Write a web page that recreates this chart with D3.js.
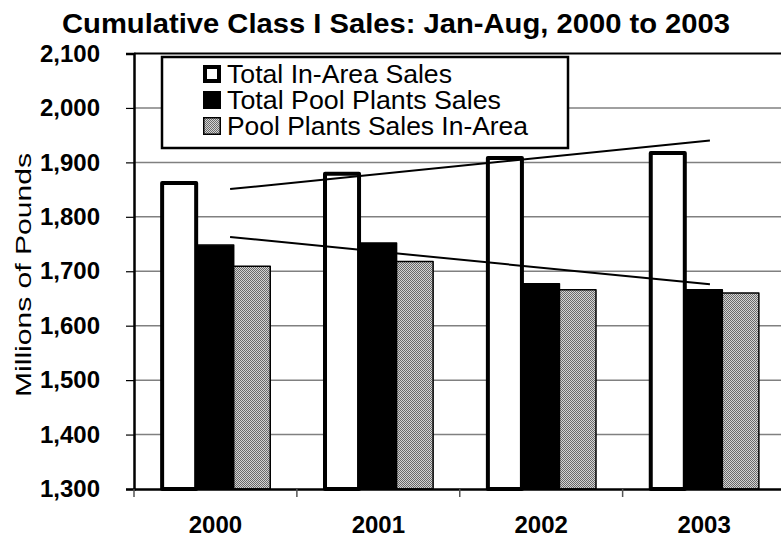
<!DOCTYPE html>
<html><head><meta charset="utf-8">
<script src="https://cdn.jsdelivr.net/npm/d3@7"></script>
<style>body{margin:0;background:#fff}svg{display:block}text{font-family:"Liberation Sans",Arial,Helvetica,sans-serif;fill:#000}</style>
</head><body><svg id="c" width="781" height="540"></svg>
<script>
const years = ["2000", "2001", "2002", "2003"];
const seriesNames = ["Total In-Area Sales", "Total Pool Plants Sales", "Pool Plants Sales In-Area"];
const totalInArea = [1862, 1879, 1908, 1917];
const totalPool = [1748, 1752, 1677, 1666];
const poolInArea = [1709, 1718, 1666, 1660];
const yTicks = [1300, 1400, 1500, 1600, 1700, 1800, 1900, 2000, 2100];
// hand-drawn trend lines: position in category units, value
const trendUpper = [{pos: 0.59, value: 1851}, {pos: 3.536, value: 1940}];
const trendLower = [{pos: 0.59, value: 1763}, {pos: 3.536, value: 1676}];
const titleText = "Cumulative Class I Sales: Jan-Aug, 2000 to 2003";
const yTitle = "Millions of Pounds";

const svg = d3.select("#c");
const L = 134, R = 785.5, T = 53.5, B = 489;

const defs = svg.append("defs");
const pat = defs.append("pattern").attr("id", "dots").attr("patternUnits", "userSpaceOnUse")
  .attr("width", 2).attr("height", 2);
pat.append("rect").attr("width", 2).attr("height", 2).attr("fill", "#d4d4d4");
pat.append("rect").attr("width", 1).attr("height", 1).attr("fill", "#6a6a6a");
pat.append("rect").attr("x", 1).attr("y", 1).attr("width", 1).attr("height", 1).attr("fill", "#6a6a6a");

const x = d3.scaleBand().domain(years).range([L, R]).paddingInner(0.327).paddingOuter(0.1635);
const xLin = d3.scaleLinear().domain([0, years.length]).range([L, R]);
const xs = d3.scaleBand().domain(seriesNames).range([0, x.bandwidth()]);
const y = d3.scaleLinear().domain([1300, 2100]).range([B, T]);

// gridlines
svg.append("g").selectAll("line").data(yTicks.filter(v => v > 1300 && v < 2100)).join("line")
  .attr("x1", L).attr("x2", R).attr("y1", d => y(d)).attr("y2", d => y(d))
  .attr("stroke", "#808080").attr("stroke-width", 1.5);
// top border
svg.append("line").attr("x1", L).attr("x2", R).attr("y1", y(2100)).attr("y2", y(2100))
  .attr("stroke", "#000").attr("stroke-width", 2);

// bars
const series = [
  {name: seriesNames[0], values: totalInArea, fill: "#fff", sw: 4},
  {name: seriesNames[1], values: totalPool, fill: "#000", sw: 1.5},
  {name: seriesNames[2], values: poolInArea, fill: "url(#dots)", sw: 1.5}
];
series.forEach(s => {
  svg.append("g").selectAll("rect").data(years).join("rect")
    .attr("x", (d) => x(d) + xs(s.name) + (s.sw > 2 ? 1.5 : 0))
    .attr("width", xs.bandwidth() - (s.sw > 2 ? 2.5 : 0))
    .attr("y", (d, i) => y(s.values[i]))
    .attr("height", (d, i) => B - y(s.values[i]))
    .attr("fill", s.fill).attr("stroke", "#000").attr("stroke-width", s.sw)
    .attr("stroke-linejoin", "round");
});

// trend lines
const line = d3.line().x(d => xLin(d.pos)).y(d => y(d.value));
[trendUpper, trendLower].forEach(t => {
  svg.append("path").attr("d", line(t)).attr("fill", "none").attr("stroke", "#000").attr("stroke-width", 2);
});

// y axis
const yAxis = svg.append("g").attr("transform", `translate(${L},0)`)
  .call(d3.axisLeft(y).tickValues(yTicks).tickFormat(d3.format(",")).tickSize(8).tickPadding(26));
yAxis.select(".domain").attr("stroke", "#000").attr("stroke-width", 2.5);
yAxis.selectAll(".tick line").attr("stroke", "#000").attr("stroke-width", 1.2);
yAxis.selectAll(".tick text").attr("font-size", 24).attr("font-weight", "bold")
  .attr("font-family", '"Liberation Sans",Arial,sans-serif').attr("fill", "#000");

// x axis
const xAxis = svg.append("g").attr("transform", `translate(0,${B})`)
  .call(d3.axisBottom(x).tickSize(0).tickPadding(27));
xAxis.select(".domain").attr("stroke", "#000").attr("stroke-width", 2.5);
xAxis.selectAll(".tick text").attr("font-size", 24).attr("font-weight", "bold")
  .attr("font-family", '"Liberation Sans",Arial,sans-serif').attr("fill", "#000");
// category boundary ticks
svg.append("g").selectAll("line").data(d3.range(years.length + 1)).join("line")
  .attr("x1", d => xLin(d)).attr("x2", d => xLin(d)).attr("y1", B).attr("y2", B + 8)
  .attr("stroke", "#555").attr("stroke-width", 1.5);

// title
svg.append("text").attr("x", 396).attr("y", 33).attr("text-anchor", "middle")
  .attr("font-size", 28).attr("font-weight", "bold")
  .attr("textLength", 668).attr("lengthAdjust", "spacingAndGlyphs").text(titleText);

// y title
svg.append("text").attr("transform", "translate(31,275) rotate(-90)").attr("text-anchor", "middle")
  .attr("font-size", 22).attr("textLength", 244).attr("lengthAdjust", "spacingAndGlyphs").text(yTitle);

// legend
const lg = svg.append("g");
lg.append("rect").attr("x", 162).attr("y", 57).attr("width", 406).attr("height", 91)
  .attr("fill", "#fff").attr("stroke", "#000").attr("stroke-width", 2.5);
const legendWidths = [225, 274, 301];
series.forEach((s, i) => {
  const cy = 74 + i * 26;
  const inset = s.sw > 2 ? 2 : 0.75;
  lg.append("rect").attr("x", 203 + inset).attr("y", cy - 9 + inset)
    .attr("width", 18 - 2 * inset).attr("height", 18 - 2 * inset)
    .attr("fill", s.fill).attr("stroke", "#000").attr("stroke-width", s.sw);
  lg.append("text").attr("x", 227).attr("y", cy + 9).attr("font-size", 25)
    .attr("textLength", legendWidths[i]).attr("lengthAdjust", "spacingAndGlyphs").text(s.name);
});
</script></body></html>
